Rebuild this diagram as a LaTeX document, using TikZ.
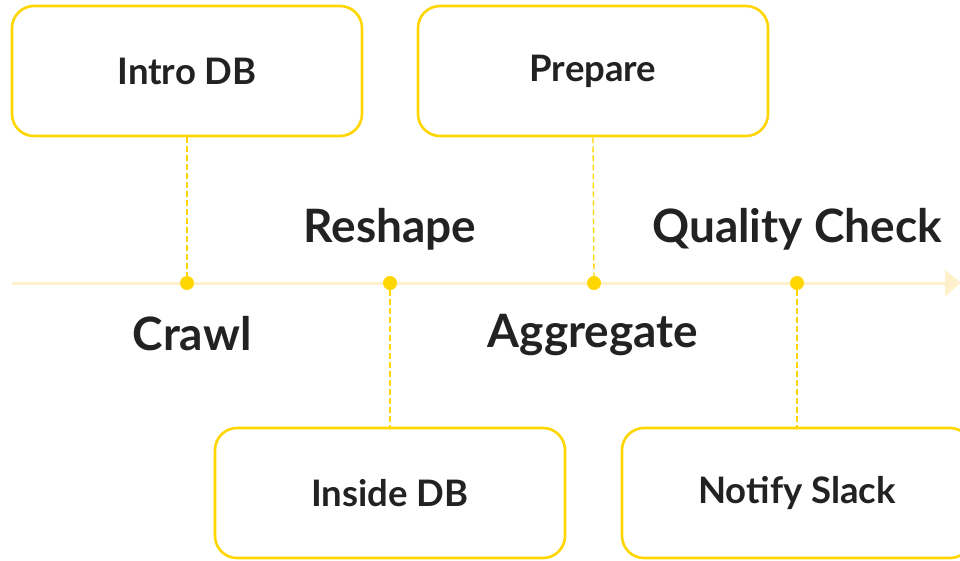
\documentclass[tikz,border=0pt]{standalone}
\usepackage{fontspec}
\setmainfont{Lato}
\usepackage{xcolor}
\usetikzlibrary{arrows.meta}
\definecolor{stepyellow}{HTML}{FFD600}
\definecolor{axisyellow}{HTML}{FFF0CC}
\definecolor{inktext}{HTML}{222222}
\tikzset{
  taskbox/.style={draw=stepyellow,line width=2.6pt,rounded corners=22pt,fill=white,
    minimum width=350pt,minimum height=130pt,text=inktext,
    font=\fontsize{36.5}{40}\selectfont\bfseries},
  stagelabel/.style={text=inktext,font=\fontsize{46}{50}\selectfont\bfseries},
  stagedot/.style={circle,fill=stepyellow,inner sep=0pt,minimum size=14pt},
  guide/.style={draw=stepyellow,line width=1.3pt,dash pattern=on 6pt off 3pt}
}

\begin{document}
\begin{tikzpicture}[x=1pt,y=-1pt]
\useasboundingbox (0,0) rectangle (960,560);
\clip (0,0) rectangle (960,560);
% Drawing the time axis
\coordinate (axisstart) at (12,283);
\coordinate (axisend) at (961,283);
\draw[axisyellow,line width=3pt,-{Triangle[length=16pt,width=26pt]}] (axisstart) -- (axisend);
% Stage dots
\node[stagedot] (d1) at (187,283) {};
\node[stagedot] (d2) at (390,283) {};
\node[stagedot] (d3) at (594,283) {};
\node[stagedot] (d4) at (797,283) {};
% Boxes above and below
\node[taskbox] (intro) at (187,71) {Intro DB};
\node[taskbox] (prepare) at (593,71) {Prepare};
\node[taskbox] (inside) at (390,493) {Inside DB};
\node[taskbox] (notify) at (797,493) {Notify Slack};
% Dashed guides
\draw[guide] (intro.south) -- (d1);
\draw[guide] (prepare.south) -- (d3);
\draw[guide] (d2) -- (inside.north);
\draw[guide] (d4) -- (notify.north);
% Stage labels
\node[stagelabel] (crawl) at (192,334) {Crawl};
\node[stagelabel] (reshape) at (390,229) {Reshape};
\node[stagelabel] (aggregate) at (593,335) {Aggregate};
\node[stagelabel] (quality) at (797,229) {Quality Check};
\end{tikzpicture}
\end{document}
